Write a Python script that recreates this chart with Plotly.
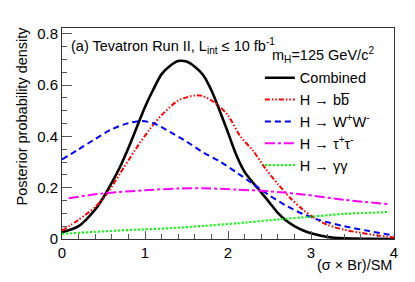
import plotly.graph_objects as go

# ---- data ----
comb_x = [0, 0.2, 0.4, 0.5, 0.6, 0.7, 0.8, 0.9, 1.0, 1.1, 1.2, 1.3, 1.4, 1.5, 1.6, 1.7, 1.8, 1.9, 2.0,
          2.1, 2.2, 2.3, 2.4, 2.5, 2.6, 2.7, 2.8, 2.9, 3.0, 3.2, 3.4, 3.7, 4.0]
comb_y = [0.026, 0.05, 0.115, 0.163, 0.22, 0.282, 0.355, 0.435, 0.515, 0.583, 0.643, 0.675, 0.694, 0.692,
          0.672, 0.64, 0.58, 0.50, 0.415, 0.328, 0.262, 0.22, 0.182, 0.142, 0.102, 0.072, 0.05, 0.034,
          0.022, 0.008, 0.003, 0.001, 0.0]

bb_x = [0, 0.2, 0.4, 0.55, 0.7, 0.88, 1.05, 1.2, 1.4, 1.6, 1.7, 1.85, 2.0, 2.15, 2.3, 2.45, 2.6, 2.75,
        2.9, 3.05, 3.2, 3.4, 3.6, 3.8, 4.0]
bb_y = [0.033, 0.075, 0.125, 0.18, 0.256, 0.347, 0.425, 0.483, 0.54, 0.56, 0.557, 0.53, 0.482, 0.40,
        0.345, 0.275, 0.215, 0.16, 0.115, 0.08, 0.055, 0.036, 0.024, 0.014, 0.006]

ww_x = [0, 0.2, 0.4, 0.6, 0.8, 0.95, 1.1, 1.3, 1.5, 1.7, 1.9, 2.1, 2.3, 2.5, 2.7, 2.9, 3.1, 3.4, 3.7, 4.0]
ww_y = [0.31, 0.35, 0.39, 0.428, 0.452, 0.46, 0.452, 0.418, 0.38, 0.338, 0.303, 0.26, 0.215, 0.17,
        0.13, 0.098, 0.074, 0.05, 0.031, 0.014]

tt_x = [0.08, 0.5, 1.0, 1.4, 1.7, 2.1, 2.5, 2.9, 3.4, 3.93]
tt_y = [0.159, 0.178, 0.19, 0.197, 0.198, 0.193, 0.186, 0.174, 0.153, 0.136]

gg_x = [0, 0.4, 0.8, 1.3, 1.7, 2.1, 2.6, 3.0, 3.4, 3.93]
gg_y = [0.02, 0.028, 0.035, 0.042, 0.051, 0.061, 0.076, 0.087, 0.098, 0.105]

series = [
    ("Combined", comb_x, comb_y, "#000000", "solid", 2.6),
    ("H \u2192 bb\u0305", bb_x, bb_y, "#ff0000", "5px,2px,1.5px,2px,1.5px,2px", 2),
    ("H \u2192 W<sup>+</sup>W<sup>-</sup>", ww_x, ww_y, "#0000ff", "6px,4px", 2),
    ("H \u2192 \u03c4<sup>+</sup>\u03c4<sup>-</sup>", tt_x, tt_y, "#ff00ff", "10px,3px,3px,3px", 2),
    ("H \u2192 \u03b3\u03b3", gg_x, gg_y, "#00ff00", "2px,2px", 2.2),
]

FONT = "Liberation Sans, Arial, sans-serif"
FS = 14.5

fig = go.Figure()
for i, (name, xs, ys, col, dash, w) in enumerate(series):
    fig.add_trace(go.Scatter(
        x=xs, y=ys, mode="lines", name=name, legendgroup=f"g{i}",
        line=dict(color=col, dash=dash, width=w, shape="spline", smoothing=0.8),
    ))

axis_common = dict(
    showgrid=False, zeroline=False, showline=True, linecolor="#333333", linewidth=1,
    mirror=True, ticks="inside", tickcolor="#555555",
    tickfont=dict(family=FONT, size=15, color="black"),
)

fig.update_xaxes(
    range=[0, 4], tickvals=[0, 1, 2, 3, 4], ticklen=8,
    minor=dict(ticks="inside", dtick=0.2, ticklen=5, tickcolor="#555555"),
    ticklabelstandoff=0, **axis_common,
)
fig.update_yaxes(
    range=[0, 0.823], tickvals=[0, 0.2, 0.4, 0.6, 0.8], ticktext=["0", "0.2", "0.4", "0.6", "0.8"],
    ticklen=10, minor=dict(ticks="inside", dtick=0.05, ticklen=5, tickcolor="#555555"),
    ticklabelstandoff=0, **axis_common,
)

fig.add_annotation(
    text="(a) Tevatron Run II, L<sub>int</sub> \u2264 10 fb<sup>-1</sup>",
    xref="paper", yref="paper", x=0.02, y=0.915, xanchor="left", yanchor="middle",
    showarrow=False, font=dict(family=FONT, size=FS, color="black"),
)
fig.add_annotation(
    text="m<sub>H</sub>=125 GeV/c<sup>2</sup>",
    xref="paper", yref="paper", x=0.625, y=0.872, xanchor="left", yanchor="middle",
    showarrow=False, font=dict(family=FONT, size=FS, color="black"),
)
fig.add_annotation(
    text="(\u03c3 \u00d7 Br)/SM",
    xref="paper", yref="paper", x=1.0, y=-0.125, xanchor="right", yanchor="middle",
    showarrow=False, font=dict(family=FONT, size=FS, color="black"),
)
fig.add_annotation(
    text="Posterior probability density", textangle=-90,
    xref="paper", yref="paper", x=-0.12, y=1.015, xanchor="center", yanchor="top",
    showarrow=False, font=dict(family=FONT, size=FS, color="black"),
)

# page body has an 8px default margin: compensate so the plot frame lands at (62..394, 28..239)
fig.update_layout(
    width=407, height=274,
    margin=dict(l=54, r=21, t=20, b=43),
    paper_bgcolor="white", plot_bgcolor="white",
    font=dict(family=FONT, size=FS, color="black"),
    showlegend=True,
    legend=dict(
        x=0.596, y=0.84, xanchor="left", yanchor="top",
        bgcolor="rgba(0,0,0,0)", borderwidth=0,
        font=dict(family=FONT, size=FS, color="black"),
        traceorder="grouped", tracegroupgap=0,
    ),
)

fig.write_html("out.html")
